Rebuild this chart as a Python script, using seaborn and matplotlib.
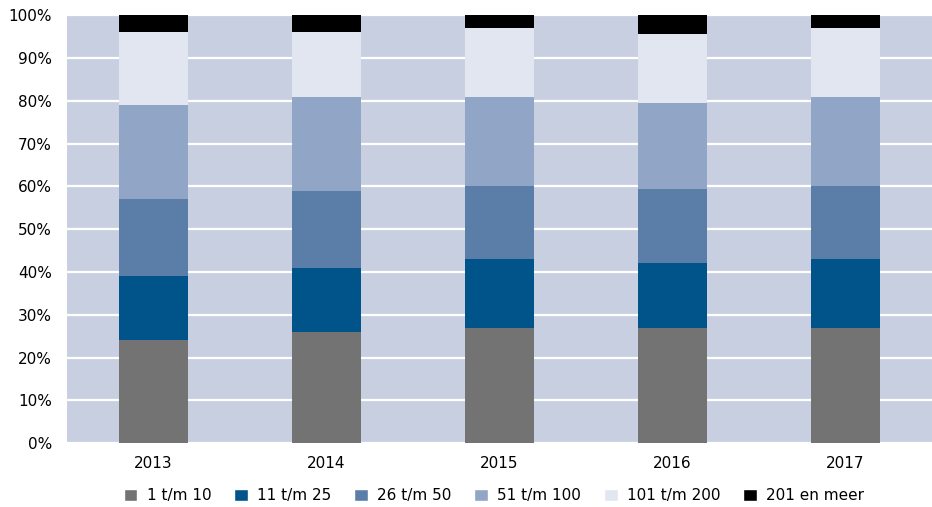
import numpy as np
import pandas as pd
import seaborn as sns
import matplotlib.pyplot as plt
from matplotlib.patches import Patch

jaren = ["2013", "2014", "2015", "2016", "2017"]
klassen = ["1 t/m 10", "11 t/m 25", "26 t/m 50", "51 t/m 100", "101 t/m 200", "201 en meer"]

k1 = [24, 26, 27, 27, 27]
k2 = [15, 15, 16, 15, 16]
k3 = [18, 18, 17, 17.5, 17]
k4 = [22, 22, 21, 20, 21]
k5 = [17, 15, 16, 16, 16]
k6 = [4, 4, 3, 4.5, 3]

kleuren = ["#737373", "#00548a", "#5b7ea8", "#91a5c6", "#e1e6f0", "#000000"]

sns.set_theme(style="white", rc={"text.color": "black", "xtick.color": "black",
                                 "ytick.color": "black"})
plt.rcParams["font.family"] = ["DejaVu Sans"]

df = pd.DataFrame({"jaar": jaren})
reeksen = [k1, k2, k3, k4, k5, k6]
cum = np.cumsum(np.array(reeksen), axis=0)

fig, ax = plt.subplots(figsize=(9.32, 5.07), dpi=100)
fig.subplots_adjust(left=0.072, right=1.0, top=0.97, bottom=0.126)
ax.set_facecolor("#c8cfe0")

# van boven naar beneden tekenen zodat lagere segmenten erover liggen
for i in range(len(reeksen) - 1, -1, -1):
    df["waarde"] = cum[i]
    sns.barplot(data=df, x="jaar", y="waarde", color=kleuren[i], width=0.4,
                saturation=1, ax=ax, zorder=3, linewidth=0)

ax.set_ylim(0, 100)
ax.set_xlim(-0.5, 4.5)
ax.set_yticks(range(0, 101, 10))
ax.set_yticklabels([f"{v}%" for v in range(0, 101, 10)], fontsize=11)
ax.tick_params(axis="x", labelsize=11, length=0, pad=9)
ax.tick_params(axis="y", length=0, pad=11)
ax.grid(axis="y", color="white", linewidth=1.6, zorder=1)
ax.set_axisbelow(True)
ax.set_xlabel("")
ax.set_ylabel("")
for s in ax.spines.values():
    s.set_visible(False)

handles = [Patch(facecolor=c, label=k) for c, k in zip(kleuren, klassen)]
fig.legend(handles=handles, loc="lower center", ncol=6, frameon=False,
           fontsize=11, handlelength=0.9, handleheight=0.9, handletextpad=0.6,
           columnspacing=1.5, bbox_to_anchor=(0.53, -0.02))

fig.savefig("out.png", dpi=100)
